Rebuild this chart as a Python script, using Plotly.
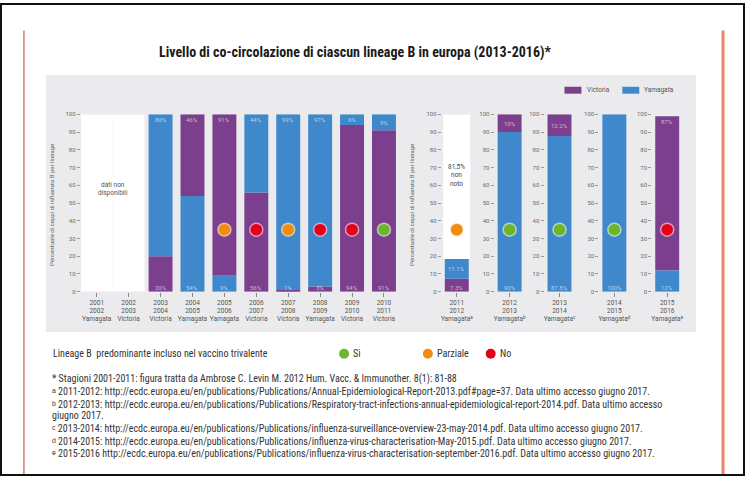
import plotly.graph_objects as go

# ---------------- data ----------------
years_left = ["2001<br>2002", "2002<br>2003", "2003<br>2004", "2004<br>2005", "2005<br>2006",
              "2006<br>2007", "2007<br>2008", "2008<br>2009", "2009<br>2010", "2010<br>2011"]
vaccine_left = ["Yamagata", "Victoria", "Victoria", "Yamagata", "Yamagata",
                "Victoria", "Victoria", "Yamagata", "Victoria", "Victoria"]
victoria_left = [None, None, 20, 46, 91, 56, 1, 3, 94, 91]
yamagata_left = [None, None, 80, 54, 9, 44, 99, 97, 6, 9]
bottom_left = [None, None, "Victoria", "Yamagata", "Yamagata", "Victoria",
               "Victoria", "Victoria", "Victoria", "Victoria"]
nodata_left = [100, 100, None, None, None, None, None, None, None, None]
match_left = [None, None, None, None, "Parziale", "No", "Parziale", "No", "No", "Sì"]

years_right = ["2011<br>2012", "2012<br>2013", "2013<br>2014", "2014<br>2015", "2015<br>2016"]
vaccine_right = ["Yamagata<sup>a</sup>", "Yamagata<sup>b</sup>", "Yamagata<sup>c</sup>",
                 "Yamagata<sup>d</sup>", "Yamagata<sup>e</sup>"]
victoria_right = [7.3, 10, 12.2, 0, 87]
yamagata_right = [11.1, 90, 87.8, 100, 12]
unknown_right = [81.5, 0, 0, 0, 0]
bottom_right = ["Victoria", "Yamagata", "Yamagata", "Yamagata", "Yamagata"]
match_right = ["Parziale", "Sì", "Sì", "Sì", "No"]

y_ticks = [0, 10, 20, 30, 40, 50, 60, 70, 80, 90, 100]

title = "Livello di co-circolazione di ciascun lineage B in europa (2013-2016)*"
y_title = "Percentuale di ceppi di influenza B per lineage"
nodata_text = "dati non<br>disponibili"
legend_text = "Lineage B  predominante incluso nel vaccino trivalente"
footnotes = [
    "* Stagioni 2001-2011: figura tratta da Ambrose C. Levin M. 2012 Hum. Vacc. & Immunother. 8(1): 81-88",
    "ᵃ 2011-2012: http://ecdc.europa.eu/en/publications/Publications/Annual-Epidemiological-Report-2013.pdf#page=37. Data ultimo accesso giugno 2017.",
    "ᵇ 2012-2013: http://ecdc.europa.eu/en/publications/Publications/Respiratory-tract-infections-annual-epidemiological-report-2014.pdf. Data ultimo accesso",
    "giugno 2017.",
    "ᶜ 2013-2014: http://ecdc.europa.eu/en/publications/Publications/influenza-surveillance-overview-23-may-2014.pdf. Data ultimo accesso giugno 2017.",
    "ᵈ 2014-2015: http://ecdc.europa.eu/en/publications/Publications/influenza-virus-characterisation-May-2015.pdf. Data ultimo accesso giugno 2017.",
    "ᵉ 2015-2016 http://ecdc.europa.eu/en/publications/Publications/influenza-virus-characterisation-september-2016.pdf. Data ultimo accesso giugno 2017.",
]

# ---------------- style ----------------
W, H = 745, 478
PURPLE = "#7b3f8e"
BLUE = "#3f88cc"
MATCH_COLORS = {"Sì": "#6cb52d", "Parziale": "#f28c0f", "No": "#e3001b"}
PANEL = "#ebebed"
COND = "Liberation Sans Narrow, Arial Narrow, Roboto Condensed, sans-serif"
SMALL = "Roboto, Liberation Sans, sans-serif"
MARK_Y = 35
LABEL_COL = "rgba(255,255,255,0.6)"


def px(x):
    return x / W


def py(y):
    return 1 - y / H


def fmt(v):
    return f"{v:g}%"


fig = go.Figure()
annotations = []
shapes = []


def ann(**kw):
    d = dict(showarrow=False, xanchor="center", yanchor="middle")
    d.update(kw)
    annotations.append(d)


def add_panel(xref, yref, xs, vict, yam, bottoms, matches, width):
    vb, yb = [], []
    for v, y, b in zip(vict, yam, bottoms):
        if v is None:
            vb.append(None)
            yb.append(None)
        elif b == "Victoria":
            vb.append(0)
            yb.append(v)
        else:
            vb.append(y)
            yb.append(0)
    fig.add_trace(go.Bar(x=xs, y=vict, base=vb, width=width, marker_color=PURPLE,
                         marker_line_width=0, name="Victoria", showlegend=False,
                         xaxis=xref, yaxis=yref))
    fig.add_trace(go.Bar(x=xs, y=yam, base=yb, width=width, marker_color=BLUE,
                         marker_line_width=0, name="Yamagata", showlegend=False,
                         xaxis=xref, yaxis=yref))
    # value labels
    for x, v, y, b in zip(xs, vict, yam, bottoms):
        if v is None:
            continue
        bot, top = (v, y) if b == "Victoria" else (y, v)
        if bot > 0:
            ann(x=x, y=2.5, xref=xref, yref=yref, text=fmt(bot),
                font=dict(size=6, color=LABEL_COL, family=SMALL))
        if top > 0:
            ty = bot + top / 2 if top < 15 else bot + top - 3
            ann(x=x, y=ty, xref=xref, yref=yref, text=fmt(top),
                font=dict(size=6, color=LABEL_COL, family=SMALL))
    # match markers
    mx = [x for x, m in zip(xs, matches) if m]
    mc = [MATCH_COLORS[m] for m in matches if m]
    fig.add_trace(go.Scatter(x=mx, y=[MARK_Y] * len(mx), mode="markers",
                             marker=dict(size=13, color=mc, line=dict(color="rgba(255,255,255,0.55)", width=1.5)),
                             showlegend=False, hoverinfo="skip", xaxis=xref, yaxis=yref))


axis_y = dict(range=[0, 100], tickvals=y_ticks, ticksuffix="%", ticks="outside", ticklen=3,
              tickcolor="#9a9a9a", tickfont=dict(size=6, color="#6a6a6a", family=SMALL),
              showgrid=False, zeroline=False, showline=False, fixedrange=True)
axis_x = dict(ticks="outside", ticklen=4, tickcolor="#8a8a8a",
              tickfont=dict(size=6.5, color="#555", family=SMALL),
              showgrid=False, zeroline=False, showline=False, fixedrange=True)

Y0, Y1 = 292, 112
layout_axes = {}

# left panel
xs_left = list(range(len(years_left)))
fig.add_trace(go.Bar(x=xs_left, y=nodata_left, width=1.0, marker_color="white", marker_line_width=0,
                     showlegend=False, xaxis="x", yaxis="y"))
add_panel("x", "y", xs_left, victoria_left, yamagata_left, bottom_left, match_left, 0.75)
ann(x=0.5, y=58, xref="x", yref="y", text=nodata_text, font=dict(size=6.5, color="#555", family=SMALL))
layout_axes["xaxis"] = dict(axis_x, domain=[px(80), px(400)], range=[-0.5, len(xs_left) - 0.5],
                            tickvals=xs_left,
                            ticktext=[f"{yr}<br>{v}" for yr, v in zip(years_left, vaccine_left)],
                            anchor="y")
layout_axes["yaxis"] = dict(axis_y, domain=[py(Y0), py(Y1)], anchor="x")

# right panels
centers = [457, 510, 560, 615, 668]
for k in range(len(years_right)):
    xr = f"x{k + 2}"
    yr_ = f"y{k + 2}"
    if unknown_right[k] > 0:
        known = victoria_right[k] + yamagata_right[k]
        fig.add_trace(go.Bar(x=[0], y=[unknown_right[k]], base=[known],
                             width=0.9, marker_color="white", marker_line_width=0, showlegend=False,
                             xaxis=xr, yaxis=yr_))
        ann(x=0, y=known + unknown_right[k] * 0.58, xref=xr, yref=yr_,
            text=f"{unknown_right[k]:.1f}".replace(".", ",") + "%<br>non<br>noto",
            font=dict(size=6.5, color="#444", family=SMALL))
    add_panel(xr, yr_, [0], [victoria_right[k]], [yamagata_right[k]], [bottom_right[k]],
              [match_right[k]], 0.8)
    c = centers[k]
    layout_axes[f"xaxis{k + 2}"] = dict(axis_x, domain=[px(c - 15), px(c + 15)], range=[-0.5, 0.5],
                                        tickvals=[0], ticktext=[f"{years_right[k]}<br>{vaccine_right[k]}"],
                                        anchor=yr_)
    layout_axes[f"yaxis{k + 2}"] = dict(axis_y, domain=[py(Y0), py(Y1)], anchor=xr)

# y titles
for xpix in (50, 411):
    ann(x=px(xpix), y=py(204), xref="paper", yref="paper", text=y_title, textangle=-90,
        font=dict(size=6, color="#666", family=SMALL))

# title
ann(x=px(355), y=py(49), xref="paper", yref="paper", text=f"<b>{title}</b>",
    font=dict(size=14, color="#1a1a1a", family=COND))

# top legend (Victoria / Yamagata)
for name, col, x0, tx in (("Victoria", PURPLE, 565, 586), ("Yamagata", BLUE, 623, 643)):
    shapes.append(dict(type="rect", xref="paper", yref="paper", x0=px(x0), x1=px(x0 + 17),
                       y0=py(91), y1=py(84), fillcolor=col, line_width=0))
    ann(x=px(tx), y=py(87.5), xref="paper", yref="paper", text=name, xanchor="left",
        font=dict(size=6.5, color="#555", family=SMALL))

# grey panel
shapes.append(dict(type="rect", xref="paper", yref="paper", x0=px(45), x1=px(697), y0=py(333), y1=py(72),
                   fillcolor=PANEL, line_width=0, layer="below"))

# bottom legend
ann(x=px(50), y=py(355), xref="paper", yref="paper", text=legend_text, xanchor="left",
    font=dict(size=10, color="#333", family=COND))
for lab, cx in (("Sì", 344), ("Parziale", 428), ("No", 491)):
    shapes.append(dict(type="circle", xref="paper", yref="paper", x0=px(cx - 5), x1=px(cx + 5),
                       y0=py(360), y1=py(350), fillcolor=MATCH_COLORS[lab], line_width=0))
    ann(x=px(cx + 7), y=py(355), xref="paper", yref="paper", text=lab, xanchor="left",
        font=dict(size=10, color="#333", family=COND))

# footnotes
for txt, yy in zip(footnotes, [381, 393.5, 406, 418, 431, 443.5, 456]):
    ann(x=px(50), y=py(yy), xref="paper", yref="paper", text=txt, xanchor="left",
        font=dict(size=10, color="#333", family=COND), borderpad=0)

# page decorations
shapes.append(dict(type="line", xref="paper", yref="paper", x0=px(23), x1=px(23), y0=py(27), y1=0,
                   line=dict(color="#c8584a", width=1.2)))
shapes.append(dict(type="line", xref="paper", yref="paper", x0=px(724), x1=px(724), y0=py(27), y1=0,
                   line=dict(color="#e8846c", width=3)))
shapes.append(dict(type="rect", xref="paper", yref="paper", x0=0, x1=1, y0=0, y1=1,
                   line=dict(color="#111", width=2), fillcolor="rgba(0,0,0,0)"))

fig.update_layout(width=W, height=H, margin=dict(l=0, r=0, t=0, b=0), paper_bgcolor="white",
                  plot_bgcolor="rgba(0,0,0,0)", barmode="overlay", showlegend=False,
                  annotations=annotations, shapes=shapes, **layout_axes)

fig.write_html("out.html", config={"displayModeBar": False},
               post_script="document.body.style.margin='0';document.body.style.overflow='hidden';")
